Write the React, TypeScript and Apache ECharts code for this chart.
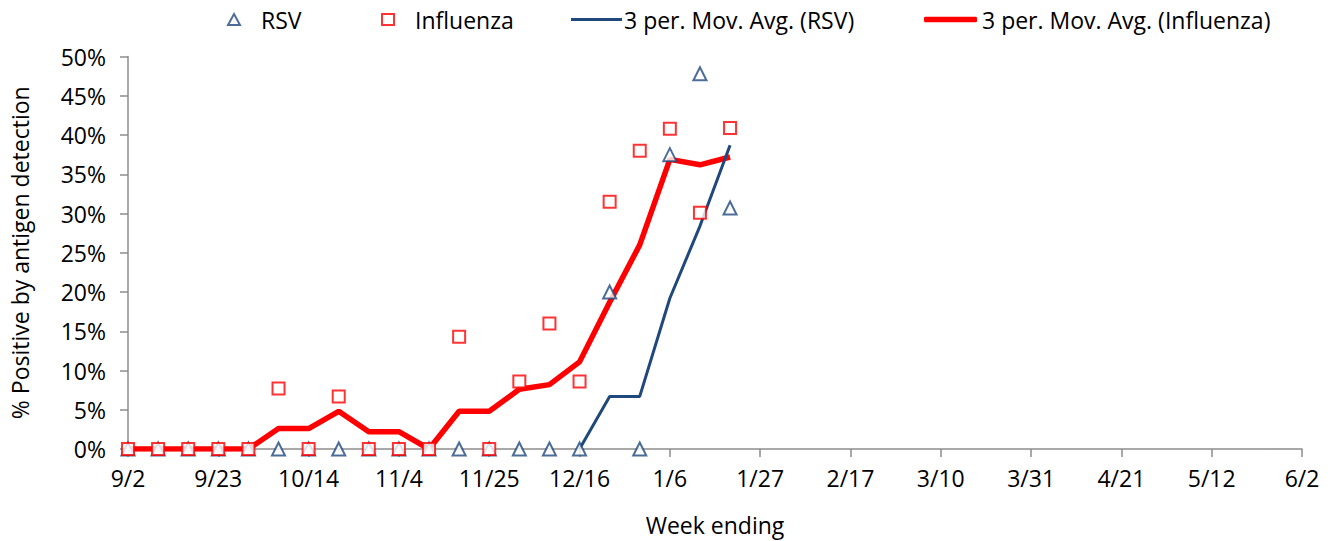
import React, { useEffect, useRef } from "react";
import * as echarts from "echarts";

const weeks = [
  "9/2", "9/9", "9/16", "9/23", "9/30", "10/7", "10/14", "10/21", "10/28", "11/4",
  "11/11", "11/18", "11/25", "12/2", "12/9", "12/16", "12/23", "12/30", "1/6", "1/13",
  "1/20", "1/27", "2/3", "2/10", "2/17", "2/24", "3/3", "3/10", "3/17", "3/24",
  "3/31", "4/7", "4/14", "4/21", "4/28", "5/5", "5/12", "5/19", "5/26", "6/2",
];

const rsv = [0, 0, 0, 0, 0, 0, 0, 0, 0, 0, 0, 0, 0, 0, 0, 0, 20.0, 0, 37.5, 47.8, 30.7];
const influenza = [0, 0, 0, 0, 0, 7.7, 0, 6.7, 0, 0, 0, 14.3, 0, 8.6, 16.0, 8.6, 31.5, 38.0, 40.8, 30.1, 40.9];
const rsvMovAvg = [null, null, null, null, null, null, null, null, null, null, null, null, null, null, null, 0, 6.7, 6.7, 19.2, 28.4, 38.7];
const fluMovAvg = [0, 0, 0, 0, 0, 2.6, 2.6, 4.8, 2.2, 2.2, 0, 4.8, 4.8, 7.6, 8.2, 11.1, 18.7, 26.0, 36.9, 36.2, 37.2];

const seriesNames = ["RSV", "Influenza", "3 per. Mov. Avg. (RSV)", "3 per. Mov. Avg. (Influenza)"];

const FONT = "Open Sans";
const FS = 23;
const BLUE = "#1f497d";
const RED = "#ff0000";
const AXIS = "#8c8c8c";

const legendText = { fontFamily: FONT, fontSize: FS, color: "#000" };

export default function App() {
  const ref = useRef<HTMLDivElement>(null);
  useEffect(() => {
    document.body.style.margin = "0";
    const chart = echarts.init(ref.current!, null, { renderer: "svg" });
    chart.setOption({
      animation: false,
      textStyle: { fontFamily: FONT, color: "#000" },
      legend: [
        {
          left: 222, top: 3, itemWidth: 12, itemHeight: 11,
          textStyle: { ...legendText, padding: [0, 0, 0, 16] },
          data: [{ name: seriesNames[0], icon: "emptyTriangle" }],
        },
        {
          left: 376, top: 3, itemWidth: 12, itemHeight: 11,
          textStyle: { ...legendText, padding: [0, 0, 0, 16] },
          data: [{ name: seriesNames[1], icon: "emptyRect" }],
        },
        {
          left: 566, top: 3, itemWidth: 51, itemHeight: 3,
          textStyle: { ...legendText, padding: [0, 0, 0, -3] },
          data: [{ name: seriesNames[2], icon: "rect", itemStyle: { color: BLUE, borderWidth: 0 } }],
        },
        {
          left: 919, top: 3, itemWidth: 53, itemHeight: 5.5,
          textStyle: { ...legendText, padding: [0, 0, 0, 0] },
          data: [{ name: seriesNames[3], icon: "roundRect", itemStyle: { color: RED, borderWidth: 0 } }],
        },
      ],
      grid: { left: 128, right: 36, top: 56.5, bottom: 91, containLabel: false },
      xAxis: {
        type: "category",
        data: weeks,
        boundaryGap: false,
        name: "Week ending",
        nameLocation: "middle",
        nameGap: 64,
        nameTextStyle: { fontFamily: FONT, fontSize: FS, color: "#000" },
        axisLine: { lineStyle: { color: AXIS, width: 1.5 } },
        axisTick: { show: true, interval: 2, length: 8, lineStyle: { color: AXIS, width: 1.5 } },
        axisLabel: { interval: 2, fontFamily: FONT, fontSize: FS, color: "#000", margin: 17 },
        splitLine: { show: false },
      },
      yAxis: {
        type: "value",
        min: 0,
        max: 50,
        interval: 5,
        name: "% Positive by antigen detection",
        nameLocation: "middle",
        nameGap: 97,
        nameTextStyle: { fontFamily: FONT, fontSize: FS, color: "#000" },
        axisLine: { show: true, lineStyle: { color: AXIS, width: 1.5 } },
        axisTick: { show: true, length: 8, lineStyle: { color: AXIS, width: 1.5 } },
        axisLabel: { formatter: "{value}%", fontFamily: FONT, fontSize: FS, color: "#000", margin: 22 },
        splitLine: { show: false },
      },
      series: [
        {
          name: seriesNames[0],
          type: "scatter",
          data: rsv,
          symbol: "emptyTriangle",
          symbolSize: 13,
          itemStyle: { color: BLUE, borderColor: BLUE, borderWidth: 1.5 },
          z: 4,
        },
        {
          name: seriesNames[1],
          type: "scatter",
          data: influenza,
          symbol: "emptyRect",
          symbolSize: 12,
          itemStyle: { color: RED, borderColor: RED, borderWidth: 1.5 },
          z: 4,
        },
        {
          name: seriesNames[2],
          type: "line",
          data: rsvMovAvg,
          showSymbol: false,
          symbol: "none",
          lineStyle: { color: BLUE, width: 3 },
          itemStyle: { color: BLUE },
          z: 3,
        },
        {
          name: seriesNames[3],
          type: "line",
          data: fluMovAvg,
          showSymbol: false,
          symbol: "none",
          lineStyle: { color: RED, width: 5.5 },
          itemStyle: { color: RED },
          z: 2,
        },
      ],
    });
    return () => chart.dispose();
  }, []);
  return <div ref={ref} style={{ position: "absolute", left: 0, top: 0, width: 1338, height: 541 }} />;
}
